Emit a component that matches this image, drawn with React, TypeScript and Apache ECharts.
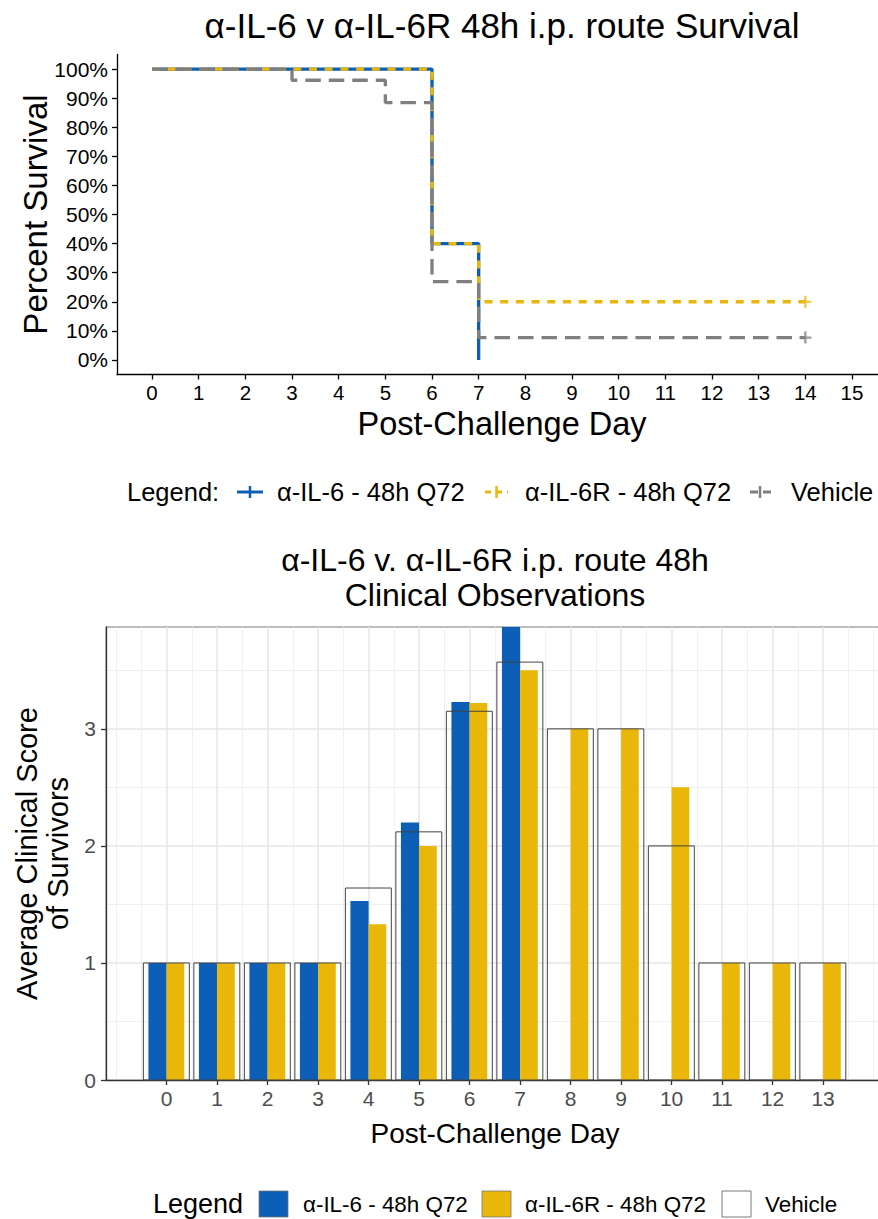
import React, { useEffect, useRef } from "react";
import * as echarts from "echarts";

// ---------- data ----------
const groupNames = ["α-IL-6 - 48h Q72", "α-IL-6R - 48h Q72", "Vehicle"];
const groupColors = ["#0C5EB6", "#E9B60A", "#7F7F7F"];

// Kaplan-Meier survival (day, percent)
const il6Days = [0, 6, 7];
const il6Surv = [100, 40, 0];
const il6rDays = [0, 6, 7, 14];
const il6rSurv = [100, 40, 20, 20];
const vehDays = [0, 3, 5, 6, 7, 14];
const vehSurv = [100, 96.15, 88.46, 26.92, 7.69, 7.69];
const censorDay = 14;
const il6rCensor = 20;
const vehCensor = 7.69;

const survXTicks = [0, 1, 2, 3, 4, 5, 6, 7, 8, 9, 10, 11, 12, 13, 14, 15];
const survYTicks = [0, 10, 20, 30, 40, 50, 60, 70, 80, 90, 100];

// clinical observations
const clinDays = [0, 1, 2, 3, 4, 5, 6, 7, 8, 9, 10, 11, 12, 13];
const il6Score = [1, 1, 1, 1, 1.53, 2.2, 3.23, 4.0, null, null, null, null, null, null];
const il6rScore = [1, 1, 1, 1, 1.33, 2.0, 3.22, 3.5, 3, 3, 2.5, 1, 1, 1];
const vehScore = [1, 1, 1, 1, 1.64, 2.12, 3.15, 3.57, 3, 3, 2, 1, 1, 1];
const clinYTicks = [0, 1, 2, 3];
const clinYMinor = [0.5, 1.5, 2.5, 3.5];
const clinXMinor = [-1, -0.5, 0.5, 1.5, 2.5, 3.5, 4.5, 5.5, 6.5, 7.5, 8.5, 9.5, 10.5, 11.5, 12.5, 13.5, 14];

const FONT = "'Liberation Sans', Arial, Helvetica, sans-serif";

function pairs(xs: number[], ys: (number | null)[]) {
  const out: number[][] = [];
  xs.forEach((x, i) => {
    const y = ys[i];
    if (y !== null && y !== undefined) out.push([x, y]);
  });
  return out;
}

function barRenderer(x0: number, x1: number, fill: string, stroke: string | null, lw: number) {
  return (params: any, api: any) => {
    const x = api.value(0);
    const y = api.value(1);
    const pTop = api.coord([x + x0, y]);
    const pBot = api.coord([x + x1, 0]);
    const rect = { x: pTop[0], y: pTop[1], width: pBot[0] - pTop[0], height: pBot[1] - pTop[1] };
    const cs = params.coordSys;
    const clipped = echarts.graphic.clipRectByRect(rect, { x: cs.x, y: cs.y, width: cs.width, height: cs.height });
    if (!clipped) return null;
    return {
      type: "rect",
      shape: clipped,
      style: stroke ? { fill, stroke, lineWidth: lw } : { fill },
    };
  };
}

function txt(text: string, x: number, y: number, size: number, align: string, extra: any = {}) {
  return {
    type: "text",
    x,
    y,
    ...extra,
    style: {
      text,
      fontSize: size,
      fontFamily: FONT,
      fill: "#000",
      align,
      verticalAlign: "middle",
    },
  };
}

export default function App() {
  const ref = useRef<HTMLDivElement>(null);

  useEffect(() => {
    if (!ref.current) return;
    const chart = echarts.init(ref.current, null, { renderer: "svg" });
    const plus = "path://M0,6L12,6M6,0L6,12";

    const legY = 492;
    const legY2 = 1204;
    const graphics: any[] = [
      // top chart texts
      txt("α-IL-6 v α-IL-6R 48h i.p. route Survival", 502, 25, 35, "center"),
      txt("Percent Survival", 35, 214.5, 33, "center", { rotation: Math.PI / 2 }),
      txt("Post-Challenge Day", 502, 424, 32.5, "center"),
      // top legend
      txt("Legend:", 127, legY, 25.5, "left"),
      { type: "line", shape: { x1: 237, y1: legY, x2: 263, y2: legY }, style: { stroke: groupColors[0], lineWidth: 3 } },
      { type: "line", shape: { x1: 250, y1: legY - 6, x2: 250, y2: legY + 6 }, style: { stroke: groupColors[0], lineWidth: 2.5 } },
      txt(groupNames[0], 277, legY, 25.5, "left"),
      { type: "line", shape: { x1: 485, y1: legY, x2: 508, y2: legY }, style: { stroke: groupColors[1], lineWidth: 3, lineDash: [6, 5] } },
      { type: "line", shape: { x1: 496.5, y1: legY - 6, x2: 496.5, y2: legY + 6 }, style: { stroke: groupColors[1], lineWidth: 2.5 } },
      txt(groupNames[1], 525, legY, 25.5, "left"),
      { type: "line", shape: { x1: 750, y1: legY, x2: 771, y2: legY }, style: { stroke: groupColors[2], lineWidth: 3, lineDash: [8, 5] } },
      { type: "line", shape: { x1: 760, y1: legY - 6, x2: 760, y2: legY + 6 }, style: { stroke: groupColors[2], lineWidth: 2.5 } },
      txt(groupNames[2], 791, legY, 25.5, "left"),
      // bottom chart texts
      txt("α-IL-6 v. α-IL-6R i.p. route 48h", 495, 560, 32, "center"),
      txt("Clinical Observations", 495, 595, 32, "center"),
      txt("Average Clinical Score", 27, 853.5, 29, "center", { rotation: Math.PI / 2 }),
      txt("of Survivors", 58, 853.5, 29, "center", { rotation: Math.PI / 2 }),
      txt("Post-Challenge Day", 495, 1133, 28, "center"),
      // bottom legend
      txt("Legend", 153, legY2, 27, "left"),
      { type: "rect", shape: { x: 259, y: 1191, width: 29, height: 26 }, style: { fill: groupColors[0], stroke: "#777", lineWidth: 0.8 } },
      txt(groupNames[0], 303, legY2, 22.4, "left"),
      { type: "rect", shape: { x: 482, y: 1191, width: 29, height: 26 }, style: { fill: groupColors[1], stroke: "#777", lineWidth: 0.8 } },
      txt(groupNames[1], 525, legY2, 22.4, "left"),
      { type: "rect", shape: { x: 722, y: 1191, width: 29, height: 26 }, style: { fill: "#fff", stroke: "#555", lineWidth: 0.8 } },
      txt(groupNames[2], 765, legY2, 22.4, "left"),
    ];

    const option: any = {
      animation: false,
      backgroundColor: "#fff",
      textStyle: { fontFamily: FONT },
      graphic: graphics,
      grid: [
        { left: 117, top: 54.5, width: 770, height: 320, containLabel: false },
        {
          left: 106, top: 627, width: 777.7, height: 453, containLabel: false,
          show: true, borderColor: "#555", borderWidth: 0.8, backgroundColor: "transparent",
        },
      ],
      xAxis: [
        {
          type: "value", gridIndex: 0, min: -0.75, max: 15.75,
          axisLine: { show: true, onZero: false, lineStyle: { color: "#000", width: 1.3 } },
          axisTick: { show: true, customValues: survXTicks, length: 5, lineStyle: { color: "#000", width: 1.3 } },
          axisLabel: { customValues: survXTicks, color: "#000", fontSize: 20.5, margin: 7, fontFamily: FONT },
          splitLine: { show: false },
        },
        {
          type: "value", gridIndex: 1, min: -1.2, max: 14.2,
          axisLine: { show: true, onZero: false, lineStyle: { color: "#333", width: 1.3 } },
          axisTick: { show: true, customValues: clinDays, length: 5, lineStyle: { color: "#333", width: 1.3 } },
          axisLabel: { customValues: clinDays, color: "#4D4D4D", fontSize: 21, margin: 8, fontFamily: FONT },
          splitLine: { show: true, lineStyle: { color: "#E6E6E6", width: 1.5 } },
        },
        {
          type: "value", gridIndex: 1, min: -1.2, max: 14.2, position: "top",
          axisLine: { show: false },
          axisTick: { show: false, customValues: clinXMinor },
          axisLabel: { show: false, customValues: clinXMinor },
          splitLine: { show: true, lineStyle: { color: "#EEEEEE", width: 0.9 } },
        },
      ],
      yAxis: [
        {
          type: "value", gridIndex: 0, min: -5, max: 105,
          axisLine: { show: true, onZero: false, lineStyle: { color: "#000", width: 1.3 } },
          axisTick: { show: true, customValues: survYTicks, length: 5, lineStyle: { color: "#000", width: 1.3 } },
          axisLabel: {
            customValues: survYTicks, color: "#000", fontSize: 21, margin: 9, fontFamily: FONT,
            formatter: (v: number) => `${v}%`,
          },
          splitLine: { show: false },
        },
        {
          type: "value", gridIndex: 1, min: 0, max: 3.87,
          axisLine: { show: true, onZero: false, lineStyle: { color: "#333", width: 1.3 } },
          axisTick: { show: true, customValues: clinYTicks, length: 5, lineStyle: { color: "#333", width: 1.3 } },
          axisLabel: { customValues: clinYTicks, color: "#4D4D4D", fontSize: 21, margin: 10, fontFamily: FONT },
          splitLine: { show: true, lineStyle: { color: "#E6E6E6", width: 1.5 } },
        },
        {
          type: "value", gridIndex: 1, min: 0, max: 3.87, position: "right",
          axisLine: { show: false },
          axisTick: { show: false, customValues: clinYMinor },
          axisLabel: { show: false, customValues: clinYMinor },
          splitLine: { show: true, lineStyle: { color: "#EEEEEE", width: 0.9 } },
        },
      ],
      series: [
        {
          name: groupNames[0], type: "line", xAxisIndex: 0, yAxisIndex: 0, step: "end",
          data: pairs(il6Days, il6Surv), symbol: "none",
          lineStyle: { color: groupColors[0], width: 3.3 }, z: 3,
        },
        {
          name: groupNames[1], type: "line", xAxisIndex: 0, yAxisIndex: 0, step: "end",
          data: pairs(il6rDays, il6rSurv), symbol: "none",
          lineStyle: { color: groupColors[1], width: 3.3, type: [8, 7.7] }, z: 4,
        },
        {
          name: groupNames[2], type: "line", xAxisIndex: 0, yAxisIndex: 0, step: "end",
          data: pairs(vehDays, vehSurv), symbol: "none",
          lineStyle: { color: groupColors[2], width: 3.3, type: [15.5, 8] }, z: 5,
        },
        {
          type: "scatter", xAxisIndex: 0, yAxisIndex: 0, symbol: plus, symbolSize: 12,
          data: [[censorDay, il6rCensor]],
          itemStyle: { color: "none", borderColor: groupColors[1], borderWidth: 2.2 }, z: 6,
        },
        {
          type: "scatter", xAxisIndex: 0, yAxisIndex: 0, symbol: plus, symbolSize: 12,
          data: [[censorDay, vehCensor]],
          itemStyle: { color: "none", borderColor: groupColors[2], borderWidth: 2.2 }, z: 6,
        },
        {
          type: "custom", xAxisIndex: 1, yAxisIndex: 1,
          data: pairs(clinDays, il6Score), encode: { x: 0, y: 1 },
          renderItem: barRenderer(-0.36, 0, groupColors[0], null, 0), z: 3,
        },
        {
          type: "custom", xAxisIndex: 1, yAxisIndex: 1,
          data: pairs(clinDays, il6rScore), encode: { x: 0, y: 1 },
          renderItem: barRenderer(0, 0.35, groupColors[1], null, 0), z: 3,
        },
        {
          type: "custom", xAxisIndex: 1, yAxisIndex: 1,
          data: pairs(clinDays, vehScore), encode: { x: 0, y: 1 },
          renderItem: barRenderer(-0.46, 0.45, "rgba(255,255,255,0)", "#444", 1), z: 4,
        },
      ],
    };
    chart.setOption(option);
    return () => chart.dispose();
  }, []);

  return (
    <div style={{ position: "absolute", left: 0, top: 0, width: 878, height: 1219, overflow: "hidden", background: "#fff" }}>
      <div ref={ref} style={{ width: 900, height: 1219 }} />
    </div>
  );
}
